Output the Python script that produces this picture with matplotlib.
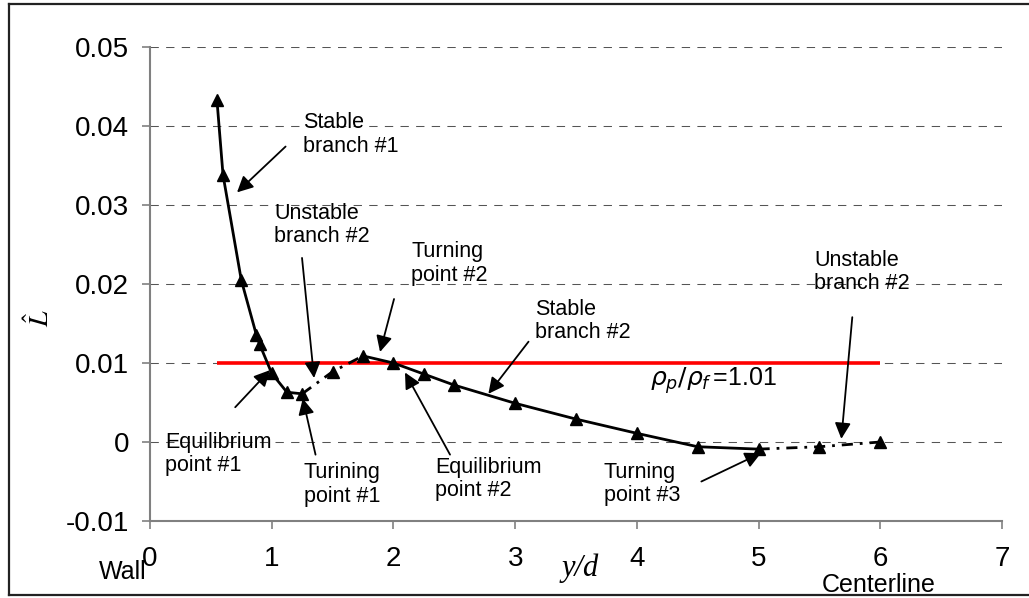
import matplotlib
matplotlib.use("Agg")
import matplotlib.pyplot as plt
from matplotlib.lines import Line2D

plt.rcParams['font.family'] = ['Liberation Sans', 'DejaVu Sans']

# lift coefficient L^ against y/d
y_d = [0.55, 0.6, 0.75, 0.875, 0.9, 1.0, 1.125, 1.25, 1.5, 1.75,
       2.0, 2.25, 2.5, 3.0, 3.5, 4.0, 4.5, 5.0, 5.5, 6.0]
lift = [0.0433, 0.0338, 0.0205, 0.0135, 0.0124, 0.0087, 0.0063, 0.0061, 0.0089, 0.0109,
        0.0100, 0.0086, 0.0072, 0.0049, 0.0029, 0.0011, -0.0006, -0.0009, -0.0006, 0.0000]

# which points belong to which branch (solid = stable, dash-dot = unstable)
solid_parts = [(0, 8), (9, 18)]
dashed_parts = [(7, 10), (17, 20)]

density_ratio = 1.01
red_level = 0.01
red_x = [0.55, 6.0]

x_ticks = [0, 1, 2, 3, 4, 5, 6, 7]
y_ticks = [-0.01, 0, 0.01, 0.02, 0.03, 0.04, 0.05]
y_tick_labels = ['-0.01', '0', '0.01', '0.02', '0.03', '0.04', '0.05']

fig = plt.figure(figsize=(10.29, 5.98), dpi=100)
ax = fig.add_axes([0.14577, 0.12876, 0.82799, 0.79264])

# frame round the whole picture
for xs, ys in [([0.0087, 0.0087], [0.005, 0.993]),
               ([0.0087, 1.0], [0.993, 0.993]),
               ([0.0087, 1.0], [0.005, 0.005])]:
    fig.add_artist(Line2D(xs, ys, transform=fig.transFigure, color='#222222', lw=1.6))

ax.set_xlim(0, 7)
ax.set_ylim(-0.01, 0.05)
ax.set_xticks(x_ticks)
ax.set_xticklabels([str(t) for t in x_ticks])
ax.set_yticks(y_ticks)
ax.set_yticklabels(y_tick_labels)
ax.tick_params(axis='both', direction='out', length=6, width=1.2, color='#808080',
               labelsize=20, labelcolor='black')
ax.tick_params(axis='x', pad=12)
ax.tick_params(axis='y', pad=9)

for s in ['top', 'right']:
    ax.spines[s].set_visible(False)
for s in ['left', 'bottom']:
    ax.spines[s].set_color('#808080')
    ax.spines[s].set_linewidth(1.5)

ax.yaxis.grid(True, color='#555555', lw=0.75, ls=(0, (8, 7)))
ax.set_axisbelow(True)

ax.hlines(red_level, red_x[0], red_x[1], color='red', lw=2.6, zorder=3)

for a, b in solid_parts:
    ax.plot(y_d[a:b], lift[a:b], color='black', lw=2, zorder=4)
for a, b in dashed_parts:
    ax.plot(y_d[a:b], lift[a:b], color='black', lw=2, ls=(0, (4, 2.5, 1, 2.5)), zorder=4)
ax.plot(y_d, lift, ls='none', marker='^', ms=8.5, color='black', zorder=5)

notes = [
    ("Stable\nbranch #1", (1.257, 0.0389), (1.114, 0.0374), (0.715, 0.0316)),
    ("Unstable\nbranch #2", (1.019, 0.0275), (1.249, 0.0233), (1.348, 0.0081)),
    ("Turning\npoint #2", (2.145, 0.0226), (2.005, 0.0181), (1.89, 0.0114)),
    ("Stable\nbranch #2", (3.163, 0.0153), (3.11, 0.0127), (2.78, 0.0061)),
    ("Unstable\nbranch #2", (5.456, 0.0215), (5.77, 0.0158), (5.68, 0.0004)),
    ("Equilibrium\npoint #1", (0.123, -0.0015), (0.70, 0.0044), (0.986, 0.0091)),
    ("Turining\npoint #1", (1.265, -0.0054), (1.36, -0.0016), (1.255, 0.0055)),
    ("Equilibrium\npoint #2", (2.342, -0.0047), (2.465, -0.0016), (2.095, 0.0088)),
    ("Turning\npoint #3", (3.73, -0.0053), (4.53, -0.0050), (5.02, -0.0014)),
]
for label, txt, tail, head in notes:
    ax.text(txt[0], txt[1], label, fontsize=15.5, ha='left', va='center',
            linespacing=1.15, zorder=6)
    ax.annotate('', xy=head, xytext=tail,
                arrowprops=dict(arrowstyle='-|>', color='black', lw=1.3,
                                mutation_scale=24, shrinkA=0, shrinkB=0),
                zorder=6)

ax.text(4.11, 0.0078, r'$\rho_p/\rho_f\,$=' + f'{density_ratio:.2f}', fontsize=18,
        ha='left', va='center', zorder=6)

ax.text(-0.129, 0.428, r'$\hat{L}$', transform=ax.transAxes, rotation=90,
        fontsize=20, ha='center', va='center', math_fontfamily='stix')

fig.text(0.5637, 0.0502, 'y/d', fontsize=22, family='Liberation Serif', style='italic',
         ha='center', va='center')
fig.text(0.1420, 0.0440, 'Wall', fontsize=18, ha='right', va='center')
fig.text(0.8542, 0.0217, 'Centerline', fontsize=18, ha='center', va='center')

fig.savefig('out.png', dpi=100)
